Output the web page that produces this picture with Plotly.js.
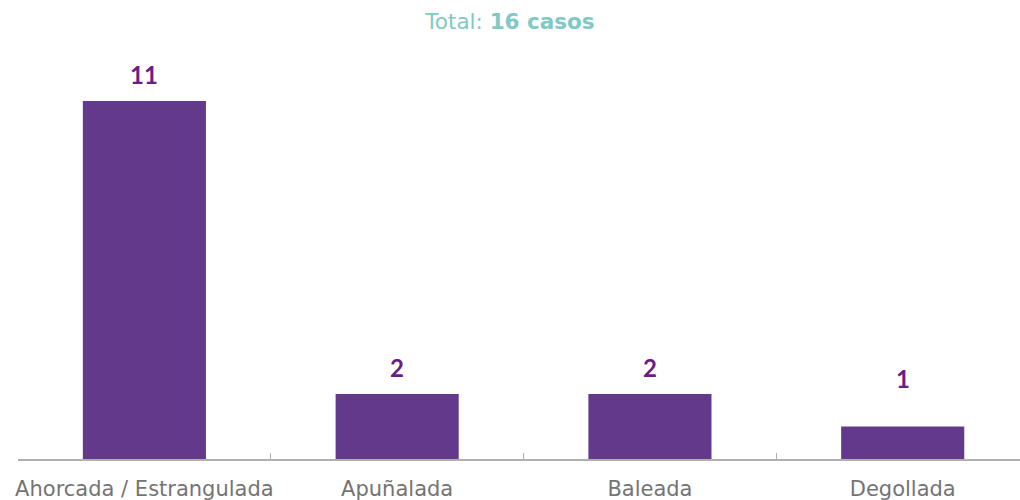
<!DOCTYPE html>
<html>
<head>
<meta charset="utf-8">
<script src="https://cdn.plot.ly/plotly-3.0.1.min.js"></script>
<style>html,body{margin:0;padding:0;background:#fff;}#chart{width:1020px;height:500px;}</style>
</head>
<body>
<div id="chart"></div>
<script>
const categories = ["Ahorcada / Estrangulada", "Apuñalada", "Baleada", "Degollada"];
const casos = [11, 2, 2, 1];
const totalCasos = 16;

const trace = {
  type: "bar",
  x: categories,
  y: casos,
  marker: {color: "#633a8b"},
  hoverinfo: "x+y"
};

const annotations = categories.map((c, i) => ({
  x: c, y: casos[i], xref: "x", yref: "y",
  text: String(casos[i]),
  showarrow: false,
  yanchor: "bottom",
  yshift: casos[i] < 2 ? 31 : 10,
  font: {family: "Lato, 'Open Sans', sans-serif", size: 24, color: "#6b1c87", weight: "bold"}
}));

const layout = {
  width: 1020, height: 500,
  margin: {l: 18, r: 0, t: 60, b: 41},
  paper_bgcolor: "#fff", plot_bgcolor: "#fff",
  title: {
    text: "Total: <b>" + totalCasos + " casos</b>",
    x: 0.5, xanchor: "center", y: 0.957, yanchor: "middle",
    font: {family: "'DejaVu Sans', sans-serif", size: 21.5, color: "#7fc9c6"}
  },
  bargap: 0.513,
  showlegend: false,
  xaxis: {
    type: "category",
    range: [-0.5, 3.464],
    showline: true, linecolor: "#b0b0b0", linewidth: 1.5,
    ticks: "inside", ticklen: 6, tickcolor: "#b0b0b0", tickwidth: 1,
    tickson: "boundaries",
    tickangle: 0,
    showgrid: false, zeroline: false,
    ticklabelstandoff: 10,
    tickfont: {family: "'DejaVu Sans', sans-serif", size: 21, color: "#747474"}
  },
  yaxis: {
    range: [0, 12.26],
    visible: false, showgrid: false, zeroline: false
  },
  annotations: annotations
};

Plotly.newPlot("chart", [trace], layout, {displayModeBar: false, staticPlot: true});
</script>
</body>
</html>
